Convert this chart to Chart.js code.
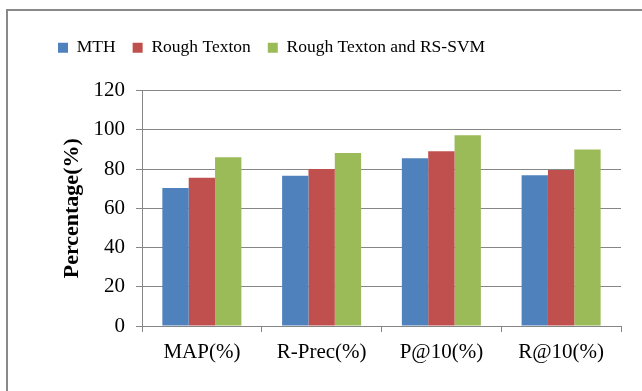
<!DOCTYPE html>
<html>
    <head>
        <title>Percentage</title>
        <meta charset="utf-8" />
        <script src="https://cdn.jsdelivr.net/npm/chart.js@4"></script>
        <style>
            body { margin: 0; background: white; overflow: hidden; }
            #ramm { position: absolute; left: 6px; top: 9px; width: 700px; height: 500px; border: 2px solid #898989; }
            #kiht { position: absolute; left: 0; top: 0; width: 642px; height: 391px; }
        </style>
    </head>
    <body>
      <div id="ramm"></div>
      <div id="kiht"><canvas id="joonis" width="642" height="391"></canvas></div>
      <script>
        // andmed
        const kategooriad = ["MAP(%)", "R-Prec(%)", "P@10(%)", "R@10(%)"];
        const mth = [70.3, 76.5, 85.5, 76.8];
        const roughTexton = [75.5, 80, 89, 79.5];
        const roughSvm = [86, 88.2, 97.2, 90];
        const yTicks = [0, 20, 40, 60, 80, 100, 120];

        const hall = "#868686";
        const font = "'Liberation Serif', 'Times New Roman', serif";

        // legendi alla lisaruum
        const legendiVahe = {
          id: 'legendiVahe',
          beforeInit(chart) {
            const fit = chart.legend.fit;
            chart.legend.fit = function() {
              fit.bind(chart.legend)();
              this.height += 24;
            };
          }
        };

        new Chart(document.getElementById("joonis"), {
          type: 'bar',
          data: {
            labels: kategooriad,
            datasets: [
              { label: 'MTH', data: mth, backgroundColor: "#4F81BD" },
              { label: 'Rough Texton', data: roughTexton, backgroundColor: "#C0504D" },
              { label: 'Rough Texton and RS-SVM', data: roughSvm, backgroundColor: "#9BBB59" }
            ]
          },
          plugins: [legendiVahe],
          options: {
            responsive: false,
            animation: false,
            layout: { padding: { left: 41, right: 21, top: 22, bottom: 0 } },
            datasets: { bar: { barPercentage: 1, categoryPercentage: 0.66 } },
            plugins: {
              tooltip: { enabled: false },
              legend: {
                align: 'start',
                labels: {
                  boxWidth: 10, boxHeight: 10, padding: 17,
                  color: "#000", font: { family: font, size: 17.5 }
                }
              }
            },
            scales: {
              x: {
                grid: { offset: true, drawOnChartArea: false, tickLength: 6, color: hall },
                border: { color: hall },
                ticks: { color: "#000", padding: 8, font: { family: font, size: 21 } },
                afterFit: function(s) { s.height = 65; }
              },
              y: {
                min: 0, max: 120,
                afterBuildTicks: function(s) { s.ticks = yTicks.map(v => ({ value: v })); },
                grid: { color: hall, tickLength: 6 },
                border: { color: hall },
                ticks: { color: "#000", padding: 11, font: { family: font, size: 21 } },
                title: {
                  display: true, text: 'Percentage(%)', color: "#000",
                  padding: { top: 18, bottom: 0 },
                  font: { family: font, size: 22, weight: 'bold' }
                },
                afterFit: function(s) { s.width = 101; }
              }
            }
          }
        });
      </script>
    </body>
</html>
